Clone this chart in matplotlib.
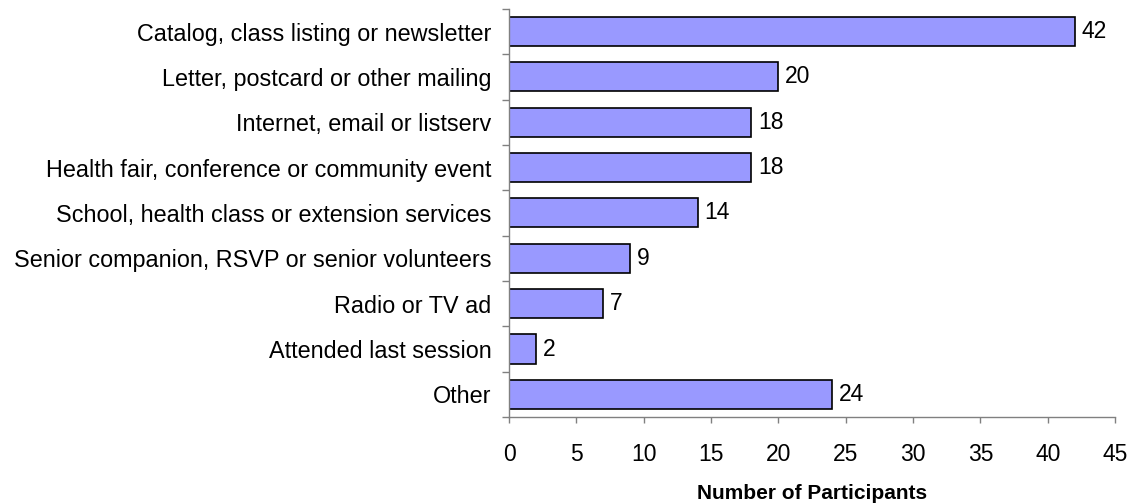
import matplotlib
matplotlib.use("Agg")
import matplotlib.pyplot as plt
import numpy as np

plt.rcParams['font.family'] = ['Liberation Sans', 'DejaVu Sans']

categories = [
    "Catalog, class listing or newsletter",
    "Letter, postcard or other mailing",
    "Internet, email or listserv",
    "Health fair, conference or community event",
    "School, health class or extension services",
    "Senior companion, RSVP or senior volunteers",
    "Radio or TV ad",
    "Attended last session",
    "Other",
]
participants = [42, 20, 18, 18, 14, 9, 7, 2, 24]
x_ticks = list(range(0, 50, 5))

fig = plt.figure(figsize=(11.35, 5.04), dpi=100)
ax = fig.add_axes([0.4485, 0.1726, 0.534, 0.8096])

y = np.arange(len(categories))
ax.barh(y, participants, height=0.64, color='#9999FF',
        edgecolor='black', linewidth=1.2)

# value labels just past the end of each bar
for yi, v in zip(y, participants):
    ax.annotate(str(v), xy=(v, yi), xytext=(5, 0), textcoords='offset points',
                va='center', ha='left', fontsize=16.5)

ax.set_ylim(len(categories) - 0.5, -0.5)
ax.set_xlim(0, 45)
ax.set_xticks(x_ticks)
ax.set_xticklabels([str(t) for t in x_ticks], fontsize=16.5)
ax.set_yticks(y)
ax.set_yticklabels(categories, fontsize=16.8)
ax.set_yticks(np.arange(-0.5, len(categories), 1.0), minor=True)
ax.tick_params(axis='y', which='major', length=0, pad=12.5)
ax.tick_params(axis='y', which='minor', length=5, color='#808080', width=1)
ax.tick_params(axis='x', which='major', length=4.5, color='#808080', width=1, pad=14)

for side in ['top', 'right']:
    ax.spines[side].set_visible(False)
for side in ['left', 'bottom']:
    ax.spines[side].set_color('#808080')
    ax.spines[side].set_linewidth(1.0)

ax.set_xlabel("Number of Participants", fontsize=15, fontweight='bold', labelpad=13)

fig.savefig("out.png", dpi=100)
